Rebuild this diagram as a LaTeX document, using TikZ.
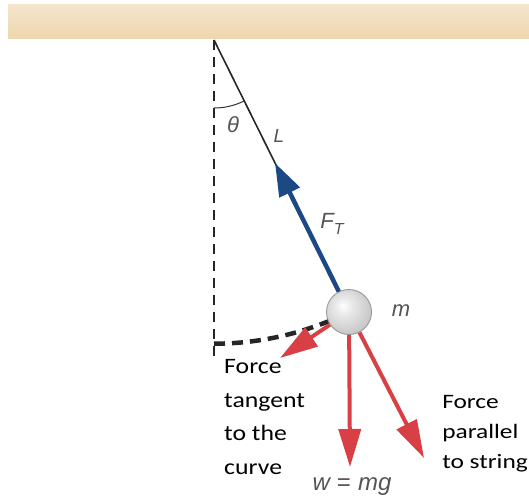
\documentclass[tikz,border=0pt]{standalone}
\usepackage{fontspec}
\newfontfamily\calib{Carlito}
\newfontfamily\helv{Liberation Sans}
\usetikzlibrary{arrows.meta}
\definecolor{ceiltop}{RGB}{244,229,204}
\definecolor{ceilbot}{RGB}{238,214,172}
\definecolor{fblue}{RGB}{28,72,132}
\definecolor{fred}{RGB}{217,64,70}
\definecolor{lblgray}{RGB}{85,85,85}
\pgfdeclareradialshading{pendball}{\pgfpoint{-7bp}{7bp}}{color(0bp)=(white); color(10bp)=(gray!18); color(30bp)=(gray!45); color(50bp)=(gray!65); color(80bp)=(gray!65)}
\begin{document}
\begin{tikzpicture}[x=1pt,y=-1pt,
  ceiling/.style={top color=ceiltop,bottom color=ceilbot,draw=none},
  refline/.style={draw=black!85,line width=1.8pt,dash pattern=on 10pt off 7pt},
  pathline/.style={draw=black!85,line width=4.5pt,dash pattern=on 11pt off 7pt},
  stringline/.style={draw=black!85,line width=1.6pt},
  anglearc/.style={draw=black!80,line width=1pt},
  tensionarrow/.style={draw=fblue,line width=4.5pt,-{Triangle[length=33pt,width=22pt]}},
  forcearrow/.style={draw=fred,line width=4pt,-{Triangle[length=38pt,width=22pt]}},
  lbl/.style={text=lblgray,font=\helv\itshape\fontsize{22}{26}\selectfont,inner sep=0pt},
  note/.style={align=left,inner sep=0pt,anchor=north west,text=black},
  bob/.style={circle,minimum size=45pt,inner sep=0pt,shading=pendball,draw=gray!80,line width=0.9pt}]

\useasboundingbox (0,0) rectangle (529,495);
\fill[white] (0,0) rectangle (529,495);
\path[ceiling] (8,5) rectangle (529,39);

\coordinate (pivot) at (214,40);
\coordinate (reflow) at (214,362);
\coordinate (ttip) at (275,163);
\coordinate (tangtip) at (280,358);
\coordinate (wtip) at (350,467);
\coordinate (ptip) at (424,458);

% vertical reference and path of the bob
\draw[refline] (pivot) -- (reflow);
\draw[pathline] plot[domain=0:24, samples=30, smooth] ({214+303.7*sin(\x)},{40+303.7*cos(\x)});
% angle arc
\draw[anglearc] plot[domain=0:26.4, samples=20, smooth] ({214+68*sin(\x)},{40+68*cos(\x)});

% bob
\node[bob] (ball) at (349,312) {};

% string and forces
\draw[stringline] (pivot) -- (ball);
\draw[tensionarrow] (ball) -- (ttip);
\draw[forcearrow] (ball) -- (tangtip);
\draw[forcearrow] (ball) -- (wtip);
\draw[forcearrow] (ball) -- (ptip);

% labels
\node[lbl] (theta) at (233,125) {θ};
\node[lbl,font=\helv\itshape\fontsize{19}{22}\selectfont] (L) at (279,136) {L};
\node[lbl] (FT) at (332,224) {F\raisebox{-0.45ex}{\fontsize{16}{18}\selectfont T}};
\node[lbl] (m) at (401,311) {m};
\node[lbl,font=\helv\itshape\fontsize{24}{28}\selectfont,anchor=base] (w) at (352,490) {w\hspace{7pt}{\upshape=}\hspace{7pt}mg};

\node[note,font=\calib\fontsize{22}{33.7}\selectfont,xscale=1.17] (tangnote) at (224,359) {Force\\tangent\\to the\\curve};
\node[note,font=\calib\fontsize{20.5}{30}\selectfont,xscale=1.24] (parnote) at (442,395) {Force\\parallel\\to string};
\end{tikzpicture}
\end{document}
